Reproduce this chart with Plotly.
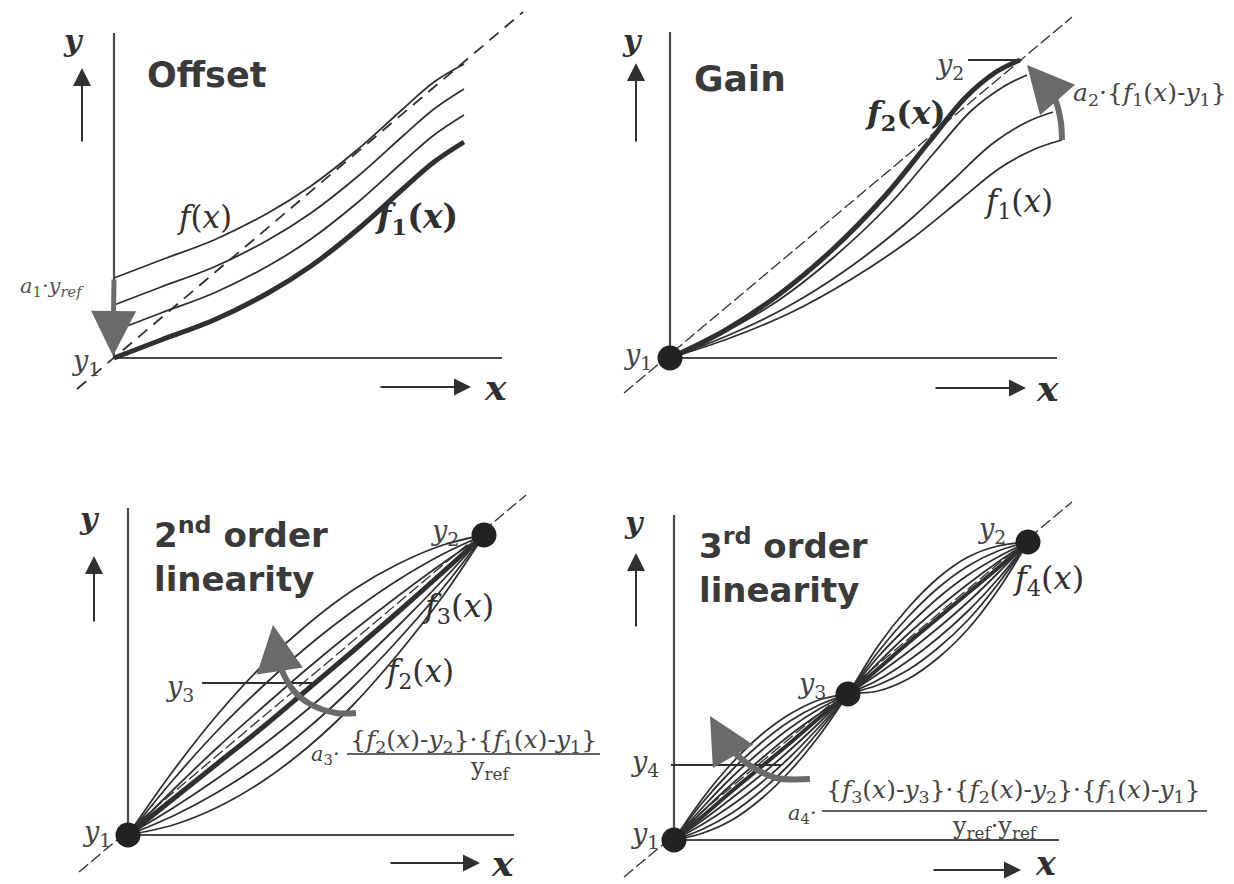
import plotly.graph_objects as go

# ---------------- data (local units: pixels measured from the y1 point, x right, y up) -------------
# Panel 1 : Offset
off_x = [0, 47, 100, 154, 197, 243, 290, 320, 350]
off_f1 = [0, 18, 38, 65, 92, 128, 170, 196, 216]
off_c2 = [27, 45, 65, 92, 119, 155, 197, 223, 243]
off_c3 = [53, 71, 91, 118, 145, 181, 223, 249, 269]
off_f = [80, 98, 118, 145, 172, 208, 250, 276, 294]
off_diag_x = [-37, 409]
off_diag_y = [-31, 346]

# Panel 2 : Gain
gain_f1_x = [0, 60, 120, 180, 240, 290, 330, 365, 392]
gain_f1_y = [0, 20, 45, 78, 118, 158, 190, 209, 218]
gain_c2_x = [0, 59, 117, 176, 234, 283, 322, 357, 383]
gain_c2_y = [0, 23, 51, 88, 133, 178, 214, 236, 246]
gain_c3_x = [0, 55, 109, 164, 219, 264, 301, 333, 357]
gain_c3_y = [0, 26, 58, 101, 153, 205, 247, 271, 283]
gain_f2_x = [0, 54, 107, 161, 214, 259, 295, 326, 350]
gain_f2_y = [0, 27, 62, 107, 161, 216, 260, 286, 298]
gain_diag_x = [-46, 402]
gain_diag_y = [-35, 341]
gain_arc_x = [392, 391, 388, 384]
gain_arc_y = [218, 235, 250, 262]

# Panel 3 : 2nd order linearity
lin2_x = [0, 45, 90, 135, 180, 225, 270, 315, 356]
lin2_curves = [
    [0, 64, 121, 170, 211, 245, 271, 290, 300],
    [0, 55, 105, 149, 189, 224, 255, 281, 300],
    [0, 45, 88, 128, 167, 204, 239, 272, 300],
    [0, 27, 57, 90, 126, 166, 209, 255, 300],
    [0, 19, 43, 72, 107, 148, 195, 247, 300],
    [0, 10, 28, 54, 88, 130, 181, 239, 300],
]
lin2_f3 = [0, 36, 72, 108, 146, 184, 223, 263, 300]
lin2_diag_x = [-49, 398]
lin2_diag_y = [-37, 340]
lin2_arc_x = [228, 208, 182, 166, 156, 150]
lin2_arc_y = [122, 122, 131, 144, 160, 176]

# Panel 4 : 3rd order linearity
lin3_x = [0, 29, 58, 87, 116, 145, 174, 204, 234, 264, 294, 324, 354]
lin3_curves = [
    [0, 42, 77, 105, 126, 140, 146, 149, 161, 182, 211, 250, 298],
    [0, 38, 70, 97, 119, 135, 146, 155, 170, 192, 220, 256, 298],
    [0, 33, 63, 89, 112, 131, 146, 160, 179, 202, 229, 261, 298],
    [0, 29, 56, 81, 105, 126, 146, 166, 188, 212, 238, 267, 298],
    [0, 20, 42, 65, 90, 117, 146, 177, 206, 232, 256, 278, 298],
    [0, 16, 35, 57, 83, 113, 146, 183, 214, 242, 265, 283, 298],
    [0, 11, 27, 49, 76, 109, 146, 188, 223, 252, 274, 289, 298],
    [0, 7, 20, 41, 69, 104, 146, 194, 232, 262, 283, 294, 298],
]
lin3_f4 = [0, 24, 49, 73, 97, 122, 146, 171, 197, 222, 247, 272, 298]
lin3_diag_x = [-50, 398]
lin3_diag_y = [-37, 338]
lin3_arc_x = [136, 102, 80, 64, 52]
lin3_arc_y = [61, 62, 72, 84, 96]

# ---------------- styling / layout ----------------
W, H = 1234, 884
INK = "#303030"
AXC = "#4a4a4a"
GRAY = "#6a6a6a"
SERIF = "DejaVu Serif"
SANS = "DejaVu Sans"
TITLE = "#3a3a3a"
LBL = "#444444"

panels = {
    1: dict(win=(0, 0, 600, 440), origin=(114, 358)),
    2: dict(win=(600, 0, 1234, 440), origin=(670, 358)),
    3: dict(win=(0, 440, 605, 884), origin=(128, 835)),
    4: dict(win=(605, 440, 1234, 884), origin=(674, 840)),
}

fig = go.Figure()
lay = {}
for k, p in panels.items():
    L, T, R, B = p["win"]
    ox, oy = p["origin"]
    s = "" if k == 1 else str(k)
    lay["xaxis" + s] = dict(domain=[L / W, R / W], range=[L - ox, R - ox], visible=False,
                            anchor="y" + s, fixedrange=True)
    lay["yaxis" + s] = dict(domain=[1 - B / H, 1 - T / H], range=[oy - B, oy - T], visible=False,
                            anchor="x" + s, fixedrange=True)
fig.update_layout(**lay)


def ids(k):
    s = "" if k == 1 else str(k)
    return "x" + s, "y" + s


def line(k, xs, ys, w=1.8, color=INK, dash=None, shape="spline"):
    xa, ya = ids(k)
    fig.add_trace(go.Scatter(x=xs, y=ys, xaxis=xa, yaxis=ya, mode="lines",
                             line=dict(width=w, color=color, dash=dash, shape=shape, smoothing=1.0),
                             hoverinfo="skip", showlegend=False))


def dots(k, xs, ys, size=25):
    xa, ya = ids(k)
    fig.add_trace(go.Scatter(x=xs, y=ys, xaxis=xa, yaxis=ya, mode="markers",
                             marker=dict(size=size, color="#222222"), hoverinfo="skip",
                             showlegend=False, cliponaxis=False))


def text(k, x, y, s, size, family=SERIF, color=INK, xanchor="center", yanchor="middle"):
    xa, ya = ids(k)
    fig.add_annotation(x=x, y=y, xref=xa, yref=ya, text=s, showarrow=False, align="left",
                       font=dict(size=size, family=family, color=color),
                       xanchor=xanchor, yanchor=yanchor)


def arrow(k, tail, tip, w, color, size):
    xa, ya = ids(k)
    fig.add_annotation(x=tip[0], y=tip[1], ax=tail[0], ay=tail[1], xref=xa, yref=ya,
                       axref=xa, ayref=ya, text="", showarrow=True, arrowhead=2,
                       arrowsize=size, arrowwidth=w, arrowcolor=color)


def frame(k, ytop, xright, up, right, ylab, xlab, xsize=36):
    line(k, [0, 0], [0, ytop], w=2.2, color=AXC, shape="linear")
    line(k, [0, xright], [0, 0], w=2.2, color=AXC, shape="linear")
    arrow(k, up[0], up[1], 2, INK, 1.8)
    arrow(k, right[0], right[1], 2, INK, 1.7)
    text(k, ylab[0], ylab[1], "<b><i>y</i></b>", 30)
    text(k, xlab[0], xlab[1], "<b><i>x</i></b>", xsize)


# ---- Panel 1: Offset ----
frame(1, 325, 388, ((-32, 215), (-32, 290)), ((265, -29), (357, -29)), (-41, 318), (381, -29))
line(1, off_diag_x, off_diag_y, w=1.8, dash="12px,8px", shape="linear")
for ys in (off_f, off_c2, off_c3):
    line(1, off_x, ys, w=1.8)
line(1, off_x, off_f1, w=5)
arrow(1, (0, 80), (-1, 2), 5, GRAY, 1.8)
text(1, 31, 283, "<b>Offset</b>", 35, family=SANS, color=TITLE, xanchor="left")
text(1, 90, 141, "<i>f</i>(<i>x</i>)", 31)
text(1, 302, 140, "<b><i>f</i><sub>1</sub>(<i>x</i>)</b>", 33)
text(1, -62, 71, "<i>a</i><sub>1</sub>·<i>y</i><sub><i>ref</i></sub>", 21, color="#555555")
text(1, -28, -4, "<i>y</i><sub>1</sub>", 27, color=LBL)

# ---- Panel 2: Gain ----
frame(2, 326, 387, ((-34, 215), (-34, 295)), ((264, -30), (356, -30)), (-38, 318), (377, -30))
line(2, gain_diag_x, gain_diag_y, w=1.3, dash="12px,4px", shape="linear")
line(2, gain_f1_x, gain_f1_y, w=1.8)
line(2, gain_c2_x, gain_c2_y, w=1.8)
line(2, gain_c3_x, gain_c3_y, w=1.8)
line(2, gain_f2_x, gain_f2_y, w=5)
line(2, [298, 352], [298, 298], w=1.8, shape="linear")
line(2, gain_arc_x, gain_arc_y, w=6, color=GRAY)
arrow(2, (gain_arc_x[-1], gain_arc_y[-1]), (357, 293), 6, GRAY, 1.55)
dots(2, [0], [0])
text(2, 22, 280, "<b>Gain</b>", 36, family=SANS, color=TITLE, xanchor="left")
text(2, -32, 2, "<i>y</i><sub>1</sub>", 27, color=LBL)
text(2, 280, 292, "<i>y</i><sub>2</sub>", 27, color=LBL)
text(2, 235, 243, "<b><i>f</i><sub>2</sub>(<i>x</i>)</b>", 32)
text(2, 348, 155, "<i>f</i><sub>1</sub>(<i>x</i>)", 31)
text(2, 480, 264, "<i>a</i><sub>2</sub>·{<i>f</i><sub>1</sub>(<i>x</i>)-<i>y</i><sub>1</sub>}", 25,
     color=LBL)

# ---- Panel 3: 2nd order linearity ----
frame(3, 327, 386, ((-34, 212), (-34, 279)), ((261, -28), (352, -28)), (-39, 317), (374, -28))
line(3, lin2_diag_x, lin2_diag_y, w=1.3, dash="12px,4px", shape="linear")
for ys in lin2_curves:
    line(3, lin2_x, ys, w=1.8)
line(3, lin2_x, lin2_f3, w=5)
line(3, [74, 188], [152, 152], w=1.8, shape="linear")
line(3, lin2_arc_x, lin2_arc_y, w=6, color=GRAY)
arrow(3, (lin2_arc_x[-1], lin2_arc_y[-1]), (145, 210), 6, GRAY, 1.55)
dots(3, [0, 356], [0, 300])
text(3, 24, 326, "<b>2<sup>nd</sup> order<br>linearity</b>", 34, family=SANS, color=TITLE,
     xanchor="left", yanchor="top")
text(3, -31, 2, "<i>y</i><sub>1</sub>", 27, color=LBL)
text(3, 317, 303, "<i>y</i><sub>2</sub>", 27, color=LBL)
text(3, 52, 147, "<i>y</i><sub>3</sub>", 27, color=LBL)
text(3, 330, 227, "<i>f</i><sub>3</sub>(<i>x</i>)", 32)
text(3, 291, 162, "<i>f</i><sub>2</sub>(<i>x</i>)", 31)
text(3, 197, 80, "<i>a</i><sub>3</sub>·", 21, color=LBL)
text(3, 345, 94, "{<i>f</i><sub>2</sub>(<i>x</i>)-<i>y</i><sub>2</sub>}·{<i>f</i><sub>1</sub>(<i>x</i>)-<i>y</i><sub>1</sub>}",
     25, color=LBL)
line(3, [219, 472], [81, 81], w=1.6, shape="linear")
text(3, 362, 67, "y<sub>ref</sub>", 24, color=LBL)

# ---- Panel 4: 3rd order linearity ----
frame(4, 325, 385, ((-38, 212), (-38, 287)), ((258, -30), (347, -30)), (-40, 318), (371, -23),
      xsize=33)
line(4, lin3_diag_x, lin3_diag_y, w=1.3, dash="12px,4px", shape="linear")
for ys in lin3_curves:
    line(4, lin3_x, ys, w=1.8)
line(4, lin3_x, lin3_f4, w=4)
line(4, [-3, 108], [75, 75], w=1.8, shape="linear")
line(4, lin3_arc_x, lin3_arc_y, w=6, color=GRAY)
arrow(4, (lin3_arc_x[-1], lin3_arc_y[-1]), (36, 124), 6, GRAY, 1.55)
dots(4, [0, 174, 354], [0, 146, 298])
text(4, 23, 320, "<b>3<sup>rd</sup> order<br>linearity</b>", 34, family=SANS, color=TITLE,
     xanchor="left", yanchor="top")
text(4, -29, 5, "<i>y</i><sub>1</sub>", 27, color=LBL)
text(4, 318, 310, "<i>y</i><sub>2</sub>", 27, color=LBL)
text(4, 138, 155, "<i>y</i><sub>3</sub>", 27, color=LBL)
text(4, -29, 77, "<i>y</i><sub>4</sub>", 27, color=LBL)
text(4, 374, 260, "<i>f</i><sub>4</sub>(<i>x</i>)", 32)
text(4, 128, 26, "<i>a</i><sub>4</sub>·", 21, color=LBL)
text(4, 339, 49, "{<i>f</i><sub>3</sub>(<i>x</i>)-<i>y</i><sub>3</sub>}·{<i>f</i><sub>2</sub>(<i>x</i>)-<i>y</i><sub>2</sub>}·{<i>f</i><sub>1</sub>(<i>x</i>)-<i>y</i><sub>1</sub>}",
     25, color=LBL)
line(4, [148, 533], [29, 29], w=1.6, shape="linear")
text(4, 321, 13, "y<sub>ref</sub>·y<sub>ref</sub>", 24, color=LBL)

fig.update_layout(width=W, height=H, margin=dict(l=0, r=0, t=0, b=0),
                  paper_bgcolor="white", plot_bgcolor="rgba(0,0,0,0)", showlegend=False)

fig.write_html("out.html", config={"displayModeBar": False},
               post_script="document.body.style.margin='0px';document.body.style.overflow='hidden';")
